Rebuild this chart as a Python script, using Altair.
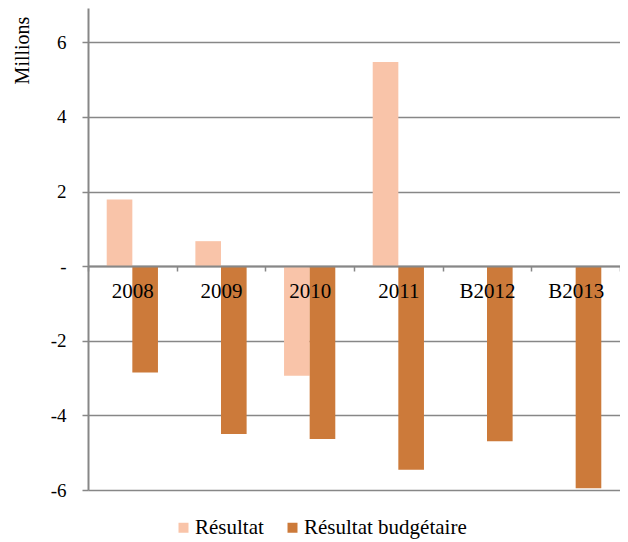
import altair as alt
import pandas as pd

categories = ["2008", "2009", "2010", "2011", "B2012", "B2013"]
series = ["Résultat", "Résultat budgétaire"]
resultat = [1.79, 0.67, -2.94, 5.47, 0.0, 0.0]
budgetaire = [-2.85, -4.50, -4.63, -5.46, -4.69, -5.95]
colors = ["#F9C4A9", "#CC7A3A"]
y_ticks = [-6, -4, -2, 0, 2, 4, 6]

rows = []
for c, r, b in zip(categories, resultat, budgetaire):
    rows.append({"cat": c, "serie": series[0], "val": r})
    rows.append({"cat": c, "serie": series[1], "val": b})
df = pd.DataFrame(rows)

FONT = "Liberation Serif"
GRAY = "#878787"

chart = alt.Chart(df).mark_bar().encode(
    x=alt.X("cat:N", sort=categories,
            scale=alt.Scale(paddingInner=0, paddingOuter=0),
            axis=alt.Axis(title=None, orient="bottom", offset=-224, labelAngle=0,
                          tickBand="extent", domainColor=GRAY, domainWidth=2,
                          tickColor=GRAY, tickWidth=1.5, tickSize=5,
                          labelFont=FONT, labelFontSize=21, labelColor="black",
                          labelPadding=9, zindex=1, grid=False)),
    xOffset=alt.XOffset("serie:N", sort=series,
                        scale=alt.Scale(paddingOuter=0.73, paddingInner=0)),
    y=alt.Y("val:Q",
            scale=alt.Scale(domain=[-6, 6.92], nice=False, zero=False),
            axis=alt.Axis(values=y_ticks, title="Millions",
                          labelExpr="datum.value == 0 ? '-' : '' + datum.value",
                          grid=True, gridColor=GRAY, gridWidth=1.5,
                          domainColor=GRAY, domainWidth=2,
                          tickColor=GRAY, tickWidth=1.5, tickSize=6,
                          labelFont=FONT, labelFontSize=19, labelColor="black",
                          labelPadding=16,
                          titleFont=FONT, titleFontSize=20, titleFontWeight="normal",
                          titleColor="black", titleAngle=-90,
                          titleAnchor="start", titleX=-66, titleY=42,
                          titleAlign="center", titleBaseline="middle")),
    color=alt.Color("serie:N", sort=series,
                    scale=alt.Scale(domain=series, range=colors),
                    legend=alt.Legend(title=None, orient="none", direction="horizontal",
                                      legendX=85, legendY=509,
                                      symbolType="square", symbolSize=100,
                                      symbolStrokeWidth=0,
                                      labelFont=FONT, labelFontSize=21, labelLimit=0,
                                      labelColor="black", labelOffset=1,
                                      columnPadding=18)),
).properties(
    width=532, height=482,
    autosize=alt.AutoSizeParams(type="none"),
    padding={"left": 80, "top": 0, "right": 0, "bottom": 52},
).configure_view(stroke=None)

chart.save("out.html", embed_options={"renderer": "svg", "actions": False})
